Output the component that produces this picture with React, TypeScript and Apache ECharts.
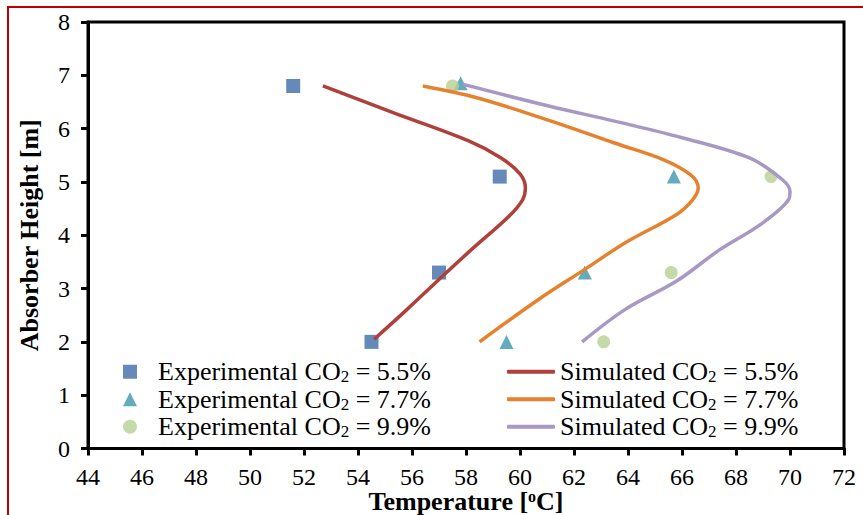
import React, { useEffect, useRef } from "react";
import * as echarts from "echarts";

const xTicks = [44, 72, 2];
const yTicks = [0, 8, 1];

const expNames = [
  "Experimental CO2 = 5.5%",
  "Experimental CO2 = 7.7%",
  "Experimental CO2 = 9.9%",
];
const simNames = [
  "Simulated CO2 = 5.5%",
  "Simulated CO2 = 7.7%",
  "Simulated CO2 = 9.9%",
];

const exp55: [number, number][] = [
  [54.5, 2.0],
  [57.0, 3.3],
  [59.25, 5.1],
  [51.6, 6.8],
];
const exp77: [number, number][] = [
  [59.5, 2.0],
  [62.4, 3.3],
  [65.7, 5.1],
  [57.8, 6.85],
];
const exp99: [number, number][] = [
  [63.1, 2.0],
  [65.6, 3.3],
  [69.3, 5.1],
  [57.5, 6.8],
];

const sim55: [number, number][] = [
  [54.6, 2.05],
  [55.8, 2.6],
  [57.0, 3.17],
  [58.2, 3.73],
  [59.6, 4.36],
  [60.1, 4.67],
  [60.2, 4.89],
  [60.0, 5.15],
  [59.3, 5.45],
  [58.1, 5.77],
  [55.3, 6.3],
  [52.7, 6.8],
];
const sim77: [number, number][] = [
  [58.5, 2.0],
  [60.7, 2.8],
  [62.4, 3.36],
  [63.9, 3.86],
  [65.8, 4.39],
  [66.4, 4.67],
  [66.6, 4.89],
  [66.3, 5.14],
  [65.3, 5.42],
  [63.5, 5.73],
  [61.1, 6.15],
  [58.4, 6.58],
  [56.4, 6.8],
];
const sim99: [number, number][] = [
  [62.3, 2.0],
  [63.9, 2.61],
  [65.8, 3.14],
  [67.4, 3.73],
  [68.9, 4.2],
  [69.95, 4.67],
  [70.0, 4.82],
  [69.7, 5.05],
  [68.5, 5.45],
  [66.0, 5.83],
  [63.5, 6.14],
  [61.1, 6.42],
  [57.9, 6.83],
];

const FONT = "'Liberation Serif', 'Times New Roman', serif";

export default function App() {
  const ref = useRef<HTMLDivElement>(null);
  useEffect(() => {
    if (!ref.current) return;
    const chart = echarts.init(ref.current, null, { renderer: "svg" });
    const legendText = {
      fontFamily: FONT,
      fontSize: 26,
      color: "#000",
      lineHeight: 27.5,
      rich: {
        sub: {
          fontFamily: FONT,
          fontSize: 17,
          color: "#000",
          lineHeight: 27.5,
          padding: [10, 0, 0, 0],
        },
      },
    };
    const fmt = (name: string) => name.replace("CO2", "CO{sub|2}");
    const lineCommon = {
      type: "line",
      smooth: 0.35,
      showSymbol: false,
      symbol: "none",
    };
    chart.setOption({
      animation: false,
      backgroundColor: "#fff",
      graphic: [
        {
          type: "rect",
          shape: { x: 8, y: 7, width: 900, height: 600 },
          style: { fill: "none", stroke: "#c00000", lineWidth: 2 },
          silent: true,
        },
      ],
      grid: {
        left: 88,
        top: 22,
        width: 756,
        height: 426.5,
        show: true,
        borderColor: "#000",
        borderWidth: 3,
        containLabel: false,
        outerBoundsMode: "none",
      },
      xAxis: {
        type: "value",
        min: xTicks[0],
        max: xTicks[1],
        interval: xTicks[2],
        name: "Temperature [{sup|o}C]",
        nameLocation: "middle",
        nameGap: 40,
        nameMoveOverlap: false,
        nameTextStyle: {
          fontFamily: FONT,
          fontSize: 26,
          lineHeight: 26,
          fontWeight: "bold",
          color: "#000",
          rich: {
            sup: {
              fontFamily: FONT,
              fontSize: 16,
              lineHeight: 16,
              fontWeight: "bold",
              color: "#000",
              padding: [0, 0, 10, 0],
            },
          },
        },
        axisLine: { show: true, lineStyle: { color: "#000", width: 3 } },
        axisTick: { show: true, inside: false, length: 7, lineStyle: { color: "#000", width: 3 } },
        axisLabel: { fontFamily: FONT, fontSize: 24, lineHeight: 24, color: "#000", margin: 16 },
        splitLine: { show: false },
      },
      yAxis: {
        type: "value",
        min: yTicks[0],
        max: yTicks[1],
        interval: yTicks[2],
        name: "Absorber Height [m]",
        nameLocation: "middle",
        nameGap: 46,
        nameMoveOverlap: false,
        nameTextStyle: {
          fontFamily: FONT,
          fontSize: 26,
          fontWeight: "bold",
          color: "#000",
        },
        axisLine: { show: true, lineStyle: { color: "#000", width: 3 } },
        axisTick: { show: true, inside: false, length: 7, lineStyle: { color: "#000", width: 3 } },
        axisLabel: { fontFamily: FONT, fontSize: 24, color: "#000", margin: 18 },
        splitLine: { show: false },
      },
      legend: [
        {
          data: expNames,
          orient: "vertical",
          left: 123,
          top: 358,
          padding: 0,
          itemWidth: 14,
          itemHeight: 14,
          itemGap: 0,
          formatter: fmt,
          textStyle: { ...legendText, padding: [0, 0, 0, 16] },
        },
        {
          data: simNames,
          orient: "vertical",
          left: 507,
          top: 358,
          padding: 0,
          icon: "roundRect",
          itemWidth: 48,
          itemHeight: 4,
          itemGap: 0,
          formatter: fmt,
          textStyle: legendText,
        },
      ],
      series: [
        {
          ...lineCommon,
          name: simNames[0],
          data: sim55,
          lineStyle: { color: "#b0403a", width: 3.5 },
          itemStyle: { color: "#b0403a" },
        },
        {
          ...lineCommon,
          name: simNames[1],
          data: sim77,
          lineStyle: { color: "#e6822e", width: 3.5 },
          itemStyle: { color: "#e6822e" },
        },
        {
          ...lineCommon,
          name: simNames[2],
          data: sim99,
          lineStyle: { color: "#a898c4", width: 3.5 },
          itemStyle: { color: "#a898c4" },
        },
        {
          name: expNames[0],
          type: "scatter",
          data: exp55,
          symbol: "rect",
          symbolSize: 14,
          itemStyle: { color: "#3e6da8" },
        },
        {
          name: expNames[1],
          type: "scatter",
          data: exp77,
          symbol: "triangle",
          symbolSize: 14,
          itemStyle: { color: "#3b97ad" },
        },
        {
          name: expNames[2],
          type: "scatter",
          data: exp99,
          symbol: "circle",
          symbolSize: 13,
          itemStyle: { color: "#b8cf92" },
        },
      ],
    });
    return () => chart.dispose();
  }, []);
  return (
    <div
      ref={ref}
      style={{ position: "fixed", left: 0, top: 0, width: 863, height: 515 }}
    />
  );
}
